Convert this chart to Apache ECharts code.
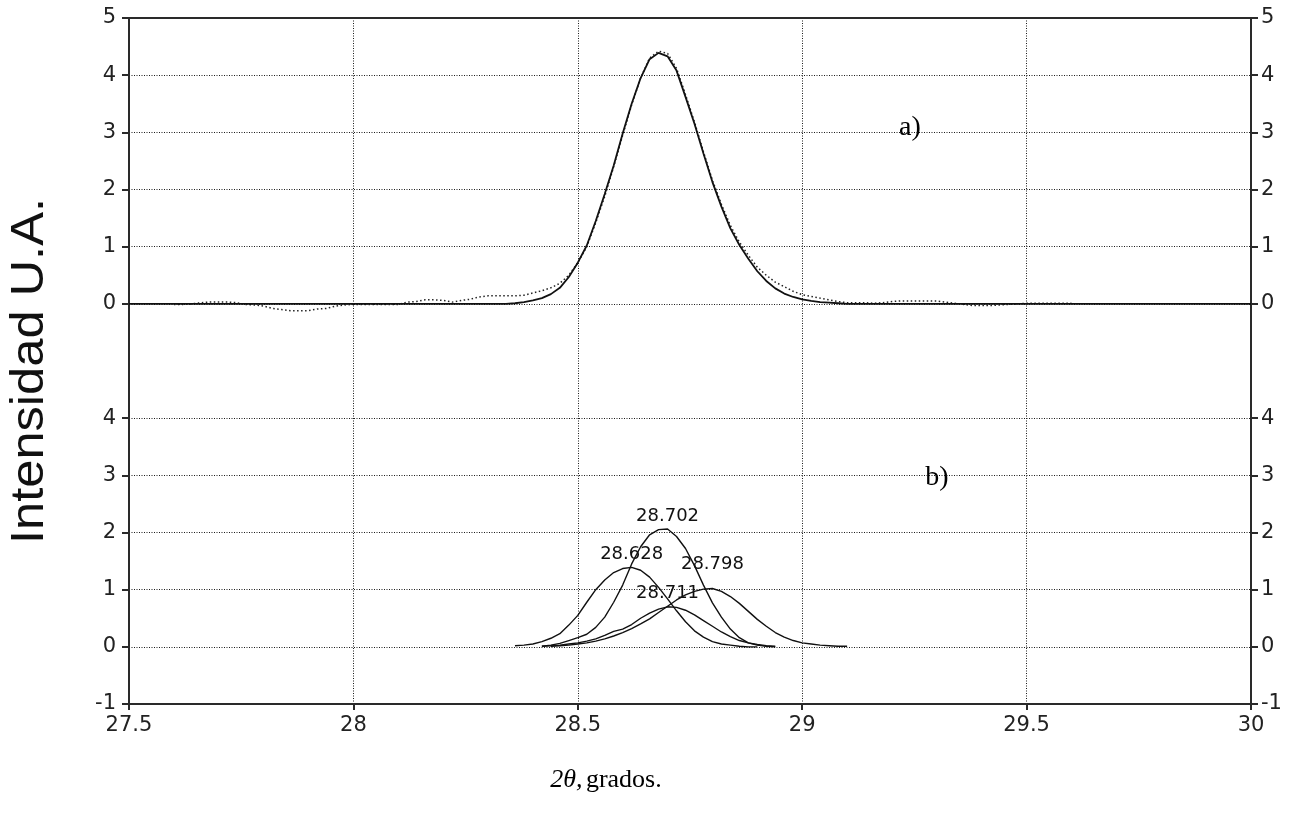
<!DOCTYPE html>
<html>
<head>
<meta charset="utf-8">
<script src="https://cdn.jsdelivr.net/npm/echarts@6/dist/echarts.min.js"></script>
<style>
  html, body { margin: 0; padding: 0; background: #fff; }
  #chart { width: 1296px; height: 821px; }
</style>
</head>
<body>
<div id="chart"></div>
<script>
// ---------------- DATA ----------------
// x ticks (2θ, grados)
const xTickValues = [27.5, 28, 28.5, 29, 29.5, 30];
// y tick labels: lower panel -1..4, upper panel 0..5 (upper panel drawn with an offset of 6)
const upperOffset = 6;
const lowerTickLabels = ['-1', '0', '1', '2', '3', '4'];
const upperTickLabels = ['0', '1', '2', '3', '4', '5'];

// a) experimental profile (dotted)
const dataX = [
  27.60,27.62,27.64,27.66,27.68,27.70,27.72,27.74,27.76,27.78,
  27.80,27.82,27.84,27.86,27.88,27.90,27.92,27.94,27.96,27.98,
  28.00,28.02,28.04,28.06,28.08,28.10,28.12,28.14,28.16,28.18,
  28.20,28.22,28.24,28.26,28.28,28.30,28.32,28.34,28.36,28.38,
  28.40,28.42,28.44,28.46,28.48,28.50,28.52,28.54,28.56,28.58,
  28.60,28.62,28.64,28.66,28.68,28.70,28.72,28.74,28.76,28.78,
  28.80,28.82,28.84,28.86,28.88,28.90,28.92,28.94,28.96,28.98,
  29.00,29.02,29.04,29.06,29.08,29.10,29.12,29.14,29.16,29.18,
  29.20,29.22,29.24,29.26,29.28,29.30,29.32,29.34,29.36,29.38,
  29.40,29.42,29.44,29.46,29.48,29.50,29.52,29.54,29.56,29.58,
  29.60
];
const dataY = [
  -0.01,-0.01,0.00,0.02,0.03,0.03,0.03,0.02,-0.01,-0.02,
  -0.04,-0.08,-0.10,-0.12,-0.12,-0.12,-0.09,-0.08,-0.04,-0.02,
  -0.01,-0.01,-0.01,-0.01,-0.01,-0.01,0.03,0.04,0.07,0.07,
  0.06,0.03,0.06,0.08,0.12,0.14,0.14,0.14,0.14,0.15,
  0.19,0.23,0.28,0.36,0.50,0.72,1.00,1.42,1.88,2.40,
  2.95,3.48,3.95,4.30,4.42,4.38,4.12,3.66,3.18,2.66,
  2.16,1.74,1.37,1.08,0.85,0.64,0.50,0.38,0.30,0.22,
  0.16,0.13,0.10,0.07,0.04,0.02,0.02,0.02,0.01,0.02,
  0.04,0.05,0.05,0.05,0.05,0.05,0.03,0.01,-0.01,-0.03,
  -0.03,-0.03,-0.02,-0.01,0.00,0.01,0.01,0.01,0.01,0.01,
  0.01
];

// a) fitted profile (solid)
const fitX = [
  27.50,
  28.34,28.36,28.38,28.40,28.42,28.44,28.46,28.48,28.50,28.52,
  28.54,28.56,28.58,28.60,28.62,28.64,28.66,28.68,28.70,28.72,
  28.74,28.76,28.78,28.80,28.82,28.84,28.86,28.88,28.90,28.92,
  28.94,28.96,28.98,29.00,29.02,29.04,29.06,29.08,29.10,
  30.00
];
const fitY = [
  0.00,
  0.00,0.01,0.03,0.06,0.10,0.17,0.28,0.47,0.72,1.02,
  1.45,1.92,2.42,2.98,3.50,3.95,4.28,4.39,4.33,4.08,
  3.62,3.15,2.63,2.13,1.70,1.32,1.03,0.79,0.57,0.40,
  0.27,0.18,0.12,0.08,0.05,0.03,0.02,0.01,0.00,
  0.00
];

// b) deconvolved components
const compX = [
  28.36,28.38,28.40,28.42,28.44,28.46,28.48,28.50,28.52,28.54,
  28.56,28.58,28.60,28.62,28.64,28.66,28.68,28.70,28.72,28.74,
  28.76,28.78,28.80,28.82,28.84,28.86,28.88,28.90,28.92,28.94,
  28.96,28.98,29.00,29.02,29.04,29.06,29.08,29.10
];
const comp28628 = [
  0.02,0.03,0.05,0.09,0.15,0.23,0.38,0.55,0.78,1.00,
  1.17,1.30,1.37,1.39,1.34,1.22,1.04,0.84,0.63,0.44,
  0.28,0.17,0.09,0.05,0.03,0.01,0.00,0.00,null,null,
  null,null,null,null,null,null,null,null
];
const comp28702 = [
  null,null,null,0.01,0.03,0.06,0.11,0.16,0.22,0.34,
  0.52,0.78,1.08,1.45,1.75,1.96,2.05,2.06,1.93,1.72,
  1.42,1.08,0.77,0.52,0.31,0.16,0.07,0.03,0.01,0.00,
  null,null,null,null,null,null,null,null
];
const comp28798 = [
  null,null,null,null,0.01,0.02,0.03,0.05,0.07,0.10,
  0.14,0.19,0.25,0.32,0.40,0.49,0.60,0.71,0.82,0.91,
  0.97,1.01,1.02,0.97,0.88,0.76,0.62,0.48,0.36,0.25,
  0.17,0.11,0.07,0.05,0.03,0.02,0.01,0.01
];
const comp28711 = [
  null,null,null,0.01,0.02,0.03,0.05,0.07,0.10,0.14,
  0.20,0.27,0.31,0.39,0.50,0.59,0.66,0.70,0.69,0.64,
  0.56,0.46,0.36,0.26,0.18,0.11,0.07,0.04,0.02,0.01,
  null,null,null,null,null,null,null,null
];
const componentNames = ['28.628', '28.702', '28.798', '28.711'];
const panelLabels = ['a)', 'b)'];
const yTitle = 'Intensidad U.A.';

// ---------------- CHART ----------------
function pairs(xs, ys, off) {
  return xs.map((x, i) => [x, ys[i] == null ? null : ys[i] + (off || 0)]);
}
const tickVals = [-1, 0, 1, 2, 3, 4, 6, 7, 8, 9, 10, 11];
function yLabel(v) {
  if (v <= 4) return lowerTickLabels[v + 1];
  if (v >= upperOffset) return upperTickLabels[v - upperOffset];
  return '';
}
const AX = '#2a2a2a';
const GRIDC = '#1a1a1a';
const labelFont = { fontFamily: 'DejaVu Sans', fontSize: 21, color: '#222' };

function yAxisCfg(pos) {
  return {
    type: 'value', position: pos, min: -1, max: 11, interval: 1,
    axisLine: { show: true, onZero: false, lineStyle: { color: AX, width: 2 } },
    axisTick: { show: true, inside: false, length: 7, customValues: tickVals, lineStyle: { color: AX, width: 2 } },
    axisLabel: Object.assign({ margin: pos === 'left' ? 13 : 10, customValues: tickVals, formatter: yLabel }, labelFont),
    splitLine: { show: pos === 'left', lineStyle: { color: GRIDC, width: 1, type: [1, 1.5] } }
  };
}

const componentSeries = [comp28628, comp28702, comp28798, comp28711].map((arr, k) => ({
  name: componentNames[k],
  type: 'line',
  xAxisIndex: 0, yAxisIndex: 0,
  data: pairs(compX, arr),
  showSymbol: false, symbol: 'none',
  connectNulls: false,
  lineStyle: { color: '#111', width: 1.4 },
  z: 3,
  markPoint: {
    symbol: 'circle', symbolSize: 0,
    data: [{ type: 'max' }],
    label: {
      show: true, position: 'top',
      distance: k === 2 ? 15 : 4,
      formatter: componentNames[k],
      fontFamily: 'DejaVu Sans', fontSize: 18, color: '#111'
    }
  }
}));

const option = {
  animation: false,
  backgroundColor: '#fff',
  grid: { left: 129, right: 45, top: 18, bottom: 117, containLabel: false, outerBoundsMode: 'none' },
  xAxis: [
    {
      type: 'value', position: 'bottom', min: 27.5, max: 30, interval: 0.5,
      axisLine: { show: true, onZero: false, lineStyle: { color: AX, width: 2 } },
      axisTick: { show: true, length: 6, lineStyle: { color: AX, width: 2 } },
      axisLabel: Object.assign({ margin: 11, formatter: v => String(v) }, labelFont),
      splitLine: { show: true, lineStyle: { color: GRIDC, width: 1, type: [1, 1.5] } }
    },
    {
      type: 'value', position: 'top', min: 27.5, max: 30, interval: 0.5,
      axisLine: { show: true, onZero: false, lineStyle: { color: AX, width: 2 } },
      axisTick: { show: false }, axisLabel: { show: false }, splitLine: { show: false }
    }
  ],
  yAxis: [yAxisCfg('left'), yAxisCfg('right')],
  graphic: [
    {
      type: 'text', x: 30, y: 371, rotation: Math.PI / 2, scaleX: 1.1,
      style: { text: yTitle, font: '46px "Liberation Sans"', fill: '#111', textAlign: 'center', textVerticalAlign: 'middle' }
    },
    {
      type: 'text', x: 910, y: 128,
      style: { text: panelLabels[0], font: '28px "Liberation Serif"', fill: '#000', textAlign: 'center', textVerticalAlign: 'middle' }
    },
    {
      type: 'text', x: 937, y: 478,
      style: { text: panelLabels[1], font: '28px "Liberation Serif"', fill: '#000', textAlign: 'center', textVerticalAlign: 'middle' }
    },
    {
      type: 'text', x: 606, y: 780,
      style: {
        text: '{i|2θ,} {n|grados.}',
        rich: {
          i: { fontFamily: 'Liberation Serif', fontStyle: 'italic', fontSize: 26, fill: '#000', color: '#000' },
          n: { fontFamily: 'Liberation Serif', fontSize: 26, fill: '#000', color: '#000' }
        },
        fill: '#000', align: 'center', verticalAlign: 'middle', textAlign: 'center', textVerticalAlign: 'middle'
      }
    }
  ],
  series: [
    {
      name: 'experimental', type: 'line', data: pairs(dataX, dataY, upperOffset),
      showSymbol: false, symbol: 'none',
      lineStyle: { color: '#222', width: 1.5, type: [1.5, 2.5] }, z: 2
    },
    {
      name: 'ajuste', type: 'line', data: pairs(fitX, fitY, upperOffset),
      showSymbol: false, symbol: 'none',
      lineStyle: { color: '#111', width: 1.8 }, z: 3
    }
  ].concat(componentSeries)
};

const chart = echarts.init(document.getElementById('chart'), null, { renderer: 'canvas' });
chart.setOption(option);
</script>
</body>
</html>
